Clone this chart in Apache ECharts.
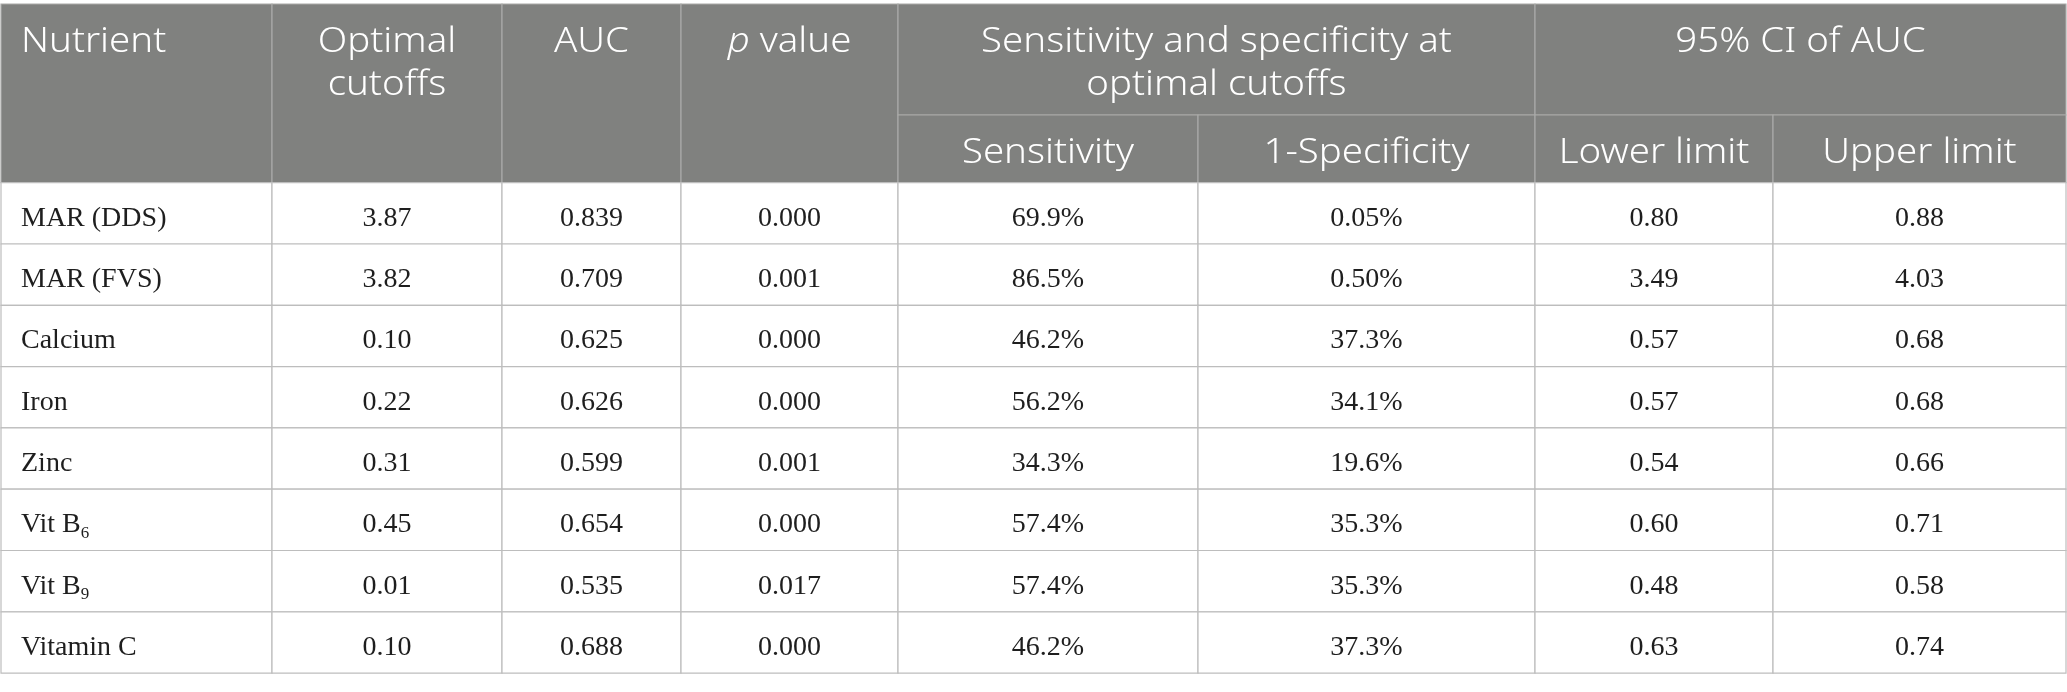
<!DOCTYPE html>
<html>
<head>
<meta charset="utf-8">
<script src="https://cdn.jsdelivr.net/npm/echarts@6/dist/echarts.min.js"></script>
<style>
html,body{margin:0;padding:0;background:#ffffff;}
#chart{width:2067px;height:692px;}
</style>
</head>
<body>
<div id="chart"></div>
<script>
// ---------------- DATA ----------------
const nutrients = ['MAR (DDS)', 'MAR (FVS)', 'Calcium', 'Iron', 'Zinc', 'Vit B', 'Vit B', 'Vitamin C'];
const nutrientSubscripts = ['', '', '', '', '', '6', '9', ''];
const optimalCutoffs = ['3.87', '3.82', '0.10', '0.22', '0.31', '0.45', '0.01', '0.10'];
const aucValues = ['0.839', '0.709', '0.625', '0.626', '0.599', '0.654', '0.535', '0.688'];
const pValues = ['0.000', '0.001', '0.000', '0.000', '0.001', '0.000', '0.017', '0.000'];
const sensitivity = ['69.9%', '86.5%', '46.2%', '56.2%', '34.3%', '57.4%', '57.4%', '46.2%'];
const oneMinusSpecificity = ['0.05%', '0.50%', '37.3%', '34.1%', '19.6%', '35.3%', '35.3%', '37.3%'];
const lowerLimit = ['0.80', '3.49', '0.57', '0.57', '0.54', '0.60', '0.48', '0.63'];
const upperLimit = ['0.88', '4.03', '0.68', '0.68', '0.66', '0.71', '0.58', '0.74'];

const topHeaders = ['Nutrient', 'Optimal\ncutoffs', 'AUC', '{i|p} value', 'Sensitivity and specificity at\noptimal cutoffs', '95% CI of AUC'];
const subHeaders = ['Sensitivity', '1-Specificity', 'Lower limit', 'Upper limit'];

// ---------------- LAYOUT ----------------
const W = 2067, H = 692;
const COL_EDGES = [1, 272, 502, 681, 898, 1198, 1535, 1773, 2066];
const HEAD_TOP = 4, HEAD_MID = 115, HEAD_BOTTOM = 182.7, ROW_H = 61.3;
const TOP_SPANS = [[0, 1, true], [1, 2, true], [2, 3, true], [3, 4, true], [4, 6, false], [6, 8, false]];
const SUB_START_COL = 4;

const HEAD_BG = '#80817f';
const HEAD_LINE = '#a9aaa8';
const BODY_LINE = '#bdbdbd';
const HEAD_FONT = 'Noto Sans';
const BODY_FONT = 'Liberation Serif';
const HEAD_SIZE = 34, HEAD_SCALE_X = 1.13, HEAD_LH = 42.3;
const HEAD_TEXT_TOP = 21.5, SUB_TEXT_MID = 153;
const BODY_SIZE = 28, BODY_TEXT_SHIFT = 5;
const TEXT_PAD = 20;

const bodyColumns = [nutrients, optimalCutoffs, aucValues, pValues, sensitivity, oneMinusSpecificity, lowerLimit, upperLimit];

function rowTop(r) { return HEAD_BOTTOM + r * ROW_H; }

function headText(x, y, text, align, vAlign) {
  return {
    type: 'text',
    x: x, y: y,
    scaleX: HEAD_SCALE_X,
    style: {
      text: text,
      fill: '#ffffff',
      fontFamily: HEAD_FONT,
      fontSize: HEAD_SIZE,
      fontWeight: 300,
      lineHeight: HEAD_LH,
      align: align, textAlign: align,
      verticalAlign: vAlign, textVerticalAlign: vAlign,
      rich: {
        i: { fontStyle: 'italic', fontFamily: HEAD_FONT, fontSize: HEAD_SIZE, fontWeight: 300, fill: '#ffffff', lineHeight: HEAD_LH }
      }
    }
  };
}

function renderTopHeader(params, api) {
  const i = api.value(0);
  const span = TOP_SPANS[i];
  const bottom = span[2] ? HEAD_BOTTOM : HEAD_MID;
  const p0 = api.coord([COL_EDGES[span[0]], HEAD_TOP]);
  const p1 = api.coord([COL_EDGES[span[1]], bottom]);
  const alignLeft = i === 0;
  const tx = alignLeft ? p0[0] + TEXT_PAD : (p0[0] + p1[0]) / 2;
  const ty = api.coord([0, HEAD_TEXT_TOP])[1];
  return {
    type: 'group',
    children: [
      { type: 'rect', shape: { x: p0[0], y: p0[1], width: p1[0] - p0[0], height: p1[1] - p0[1] },
        style: { fill: HEAD_BG, stroke: HEAD_LINE, lineWidth: 1.2 } },
      headText(tx, ty, topHeaders[i], alignLeft ? 'left' : 'center', 'top')
    ]
  };
}

function renderSubHeader(params, api) {
  const j = api.value(0);
  const c = SUB_START_COL + j;
  const p0 = api.coord([COL_EDGES[c], HEAD_MID]);
  const p1 = api.coord([COL_EDGES[c + 1], HEAD_BOTTOM]);
  const ty = api.coord([0, SUB_TEXT_MID])[1];
  return {
    type: 'group',
    children: [
      { type: 'rect', shape: { x: p0[0], y: p0[1], width: p1[0] - p0[0], height: p1[1] - p0[1] },
        style: { fill: HEAD_BG, stroke: HEAD_LINE, lineWidth: 1.2 } },
      headText((p0[0] + p1[0]) / 2, ty, subHeaders[j], 'center', 'middle')
    ]
  };
}

function renderBody(params, api) {
  const c = api.value(0);
  const r = api.value(1);
  const p0 = api.coord([COL_EDGES[c], rowTop(r)]);
  const p1 = api.coord([COL_EDGES[c + 1], rowTop(r + 1)]);
  const isFirst = c === 0;
  let text = bodyColumns[c][r];
  if (isFirst && nutrientSubscripts[r]) {
    text = '{m|' + text + '}{s|' + nutrientSubscripts[r] + '}';
  }
  const tx = isFirst ? p0[0] + TEXT_PAD : (p0[0] + p1[0]) / 2;
  const ty = (p0[1] + p1[1]) / 2 + BODY_TEXT_SHIFT;
  return {
    type: 'group',
    children: [
      { type: 'rect', shape: { x: p0[0], y: p0[1], width: p1[0] - p0[0], height: p1[1] - p0[1] },
        style: { fill: '#ffffff', stroke: BODY_LINE, lineWidth: 1.2 } },
      { type: 'text', x: tx, y: ty,
        style: {
          text: text,
          fill: '#1e1e1e',
          fontFamily: BODY_FONT,
          fontSize: BODY_SIZE,
          lineHeight: 34,
          align: isFirst ? 'left' : 'center', textAlign: isFirst ? 'left' : 'center',
          verticalAlign: 'middle', textVerticalAlign: 'middle',
          rich: {
            m: { fontFamily: BODY_FONT, fontSize: BODY_SIZE, fill: '#1e1e1e', lineHeight: 34, verticalAlign: 'middle' },
            s: { fontFamily: BODY_FONT, fontSize: 17, fill: '#1e1e1e', lineHeight: 34, verticalAlign: 'bottom' }
          }
        } }
    ]
  };
}

const bodyData = [];
for (let r = 0; r < nutrients.length; r++) {
  for (let c = 0; c < bodyColumns.length; c++) {
    bodyData.push([c, r]);
  }
}

const chart = echarts.init(document.getElementById('chart'), null, { renderer: 'canvas', width: W, height: H });
chart.setOption({
  backgroundColor: '#ffffff',
  animation: false,
  grid: { left: 0, right: 0, top: 0, bottom: 0 },
  xAxis: { type: 'value', min: 0, max: W, show: false },
  yAxis: { type: 'value', min: 0, max: H, inverse: true, show: false },
  series: [
    { type: 'custom', renderItem: renderTopHeader, data: topHeaders.map((t, i) => [i, 0]), silent: true, clip: false },
    { type: 'custom', renderItem: renderSubHeader, data: subHeaders.map((t, j) => [j, 0]), silent: true, clip: false },
    { type: 'custom', renderItem: renderBody, data: bodyData, silent: true, clip: false }
  ]
});
</script>
</body>
</html>
